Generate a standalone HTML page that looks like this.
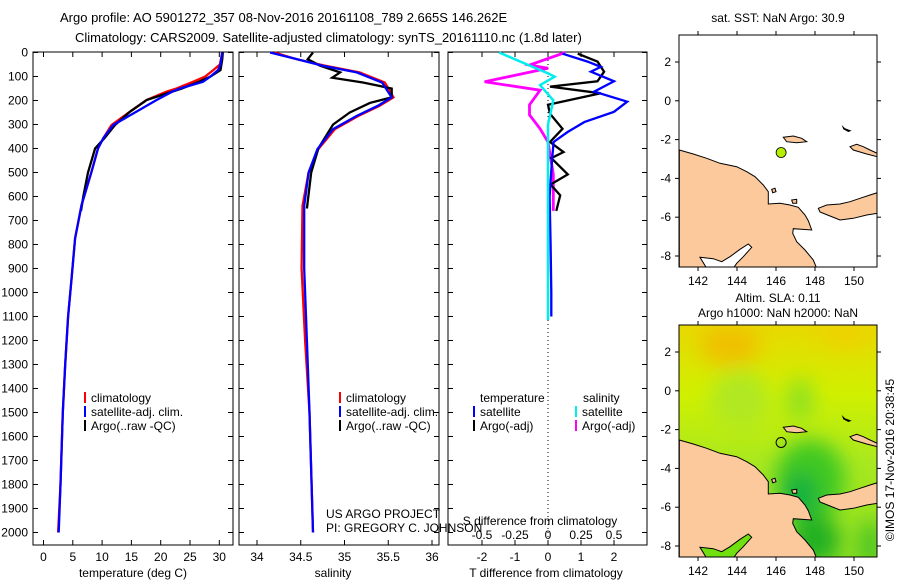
<!DOCTYPE html>
<html><head><meta charset="utf-8"><style>
html,body{margin:0;padding:0;background:#fff;width:900px;height:580px;overflow:hidden}
svg{display:block;font-family:"Liberation Sans",sans-serif;font-size:12px}
</style></head><body>
<svg id="c" width="900" height="580" viewBox="0 0 900 580">
<text x="60" y="22" font-size="13">Argo profile: AO 5901272_357 08-Nov-2016 20161108_789 2.665S 146.262E</text>
<text x="75" y="42" font-size="13">Climatology: CARS2009. Satellite-adjusted climatology: synTS_20161110.nc (1.8d later)</text>
<g id="p1"></g>
<g id="p2"></g>
<g id="p3"></g>
<g id="m1"></g>
<g id="m2"></g>
<text transform="translate(894,460) rotate(-90)" text-anchor="middle" font-size="12">©IMOS 17-Nov-2016 20:38:45</text>
</svg>
<script>
// ---- data ----
const climDepth=[0,50,73,100,122,150,163,198,246,302,357,400,496,635,774,940,1100,1300,1500,1800,2000];
const climTemp=[30.5,30.1,29.0,27.6,25.5,22.7,21.0,17.6,14.8,11.6,10.2,9.3,8.2,6.5,5.4,4.8,4.2,3.7,3.3,2.9,2.5];
const satTemp=[30.5,30.2,29.8,28.5,27.2,23.3,22.0,19.3,15.9,11.9,10.2,9.3,8.2,6.5,5.4,4.8,4.2,3.7,3.3,2.9,2.6];
const argoDepth=[0,30,73,100,122,150,198,246,302,357,400,500,600,660];
const argoTemp=[30.6,30.5,30.2,28.5,26.5,23.6,17.6,14.8,12.2,10.4,8.8,7.6,6.8,6.4];
const salDepth=[0,28,55,83,125,187,222,264,319,403,500,639,900,1200,1500,2000];
const climSal=[34.2,34.45,34.78,35.17,35.46,35.56,35.40,35.16,34.89,34.70,34.59,34.52,34.51,34.55,34.6,34.64];
const satSal=[34.15,34.46,34.75,35.14,35.43,35.54,35.38,35.14,34.87,34.69,34.59,34.54,34.54,34.57,34.6,34.64];
const argoSalDepth=[0,28,55,83,105,125,150,187,210,250,300,400,500,650];
const argoSal=[34.64,34.58,34.72,34.95,34.86,35.21,35.54,35.54,35.29,35.06,34.87,34.70,34.62,34.57];
const dTDepth=[5,38,60,80,120,163,205,247,290,331,373,450,600,800,1000,1100];
const satDT=[0.44,1.2,1.6,1.3,2.0,1.4,2.4,2.0,1.1,0.6,0.17,0.12,0.05,0.08,0.1,0.1];
const argoDTDepth=[5,38,80,120,142,170,218,255,318,373,415,440,508,550,595,660];
const argoDT=[0.9,1.5,1.7,1.5,0.06,1.6,0.0,0.06,0.44,0.06,0.47,0.1,0.6,0.08,0.37,0.25];
const dSDepth=[0,52,66,122,157,218,260,318,373,508,660];
const argoDS=[0.13,-0.14,0.0,-0.48,-0.06,-0.14,-0.14,-0.06,0.0,0.04,0.04];
const satDSDepth=[0,52,87,101,136,199,300,600,900,1115];
const satDS=[-0.37,-0.15,0,0.05,-0.06,0.04,0,0,0,0];
const depthTicks=[0,100,200,300,400,500,600,700,800,900,1000,1100,1200,1300,1400,1500,1600,1700,1800,1900,2000];
const tempTicks=[0,5,10,15,20,25,30];
const salTicks=[34,34.5,35,35.5,36];
const salTickLabels=["34","34.5","35","35.5","36"];
const dTTicks=[-2,-1,0,1,2];
const dSTicks=[-0.5,-0.25,0,0.25,0.5];
const dSTickLabels=["-0.5","-0.25","0","0.25","0.5"];
const mapLonTicks=[142,144,146,148,150];
const mapLatTicks=[2,0,-2,-4,-6,-8];
const argoLon=146.262, argoLat=-2.665;
// ---- helpers ----
const NS="http://www.w3.org/2000/svg";
function mk(parent,tag,attrs){const e=document.createElementNS(NS,tag);for(const k in attrs)e.setAttribute(k,attrs[k]);parent.appendChild(e);return e;}
const yD=d=>52.5+0.24*d;
const xT=t=>43.5+5.86*t;
const xS=s=>257+87.5*(s-34);
const xDT=t=>548+33*t;
const xDS=s=>548+132*s;
const TOP=52,BOT=545;
function frame(g,x0,x1,name){
  const r=mk(g,'rect',{x:x0,y:TOP,width:x1-x0,height:BOT-TOP,fill:'none',stroke:'#000','stroke-width':1});
  
  
  depthTicks.forEach(d=>{const y=yD(d);
    mk(g,'line',{x1:x0,x2:x0+5,y1:y,y2:y,stroke:'#000'});
    mk(g,'line',{x1:x1-5,x2:x1,y1:y,y2:y,stroke:'#000'});
  });
}
function line(g,xs,ds,fx,color,name,w){
  const pts=xs.map((v,i)=>fx(v).toFixed(1)+','+yD(ds[i]).toFixed(1)).join(' ');
  const p=mk(g,'polyline',{points:pts,fill:'none',stroke:color,'stroke-width':w||2.3});
  
  
}
function xticks(g,ticks,labels,fx,ylab){
  ticks.forEach((t,i)=>{const x=fx(t);
    mk(g,'line',{x1:x,x2:x,y1:BOT,y2:BOT-5,stroke:'#000'});
    mk(g,'line',{x1:x,x2:x,y1:TOP,y2:TOP+5,stroke:'#000'});
    const tx=mk(g,'text',{x:x,y:ylab,'text-anchor':'middle'});tx.textContent=labels[i];
  });
}
function txt(g,x,y,s,name,anchor){const t=mk(g,'text',{x:x,y:y,'text-anchor':anchor||'start'});t.textContent=s;
  
  
  return t;}
function legBar(g,x,y,color){mk(g,'rect',{x:x,y:y-10,width:2,height:11,fill:color});}
// ---- panel 1 ----
const p1=document.getElementById('p1');
frame(p1,33,233,'temperature-axes');
depthTicks.forEach(d=>{const t=mk(p1,'text',{x:28,y:yD(d)+4,'text-anchor':'end'});t.textContent=d;});
xticks(p1,tempTicks,tempTicks.map(String),xT,561);
txt(p1,133,577,'temperature (deg C)','temperature-axis-title','middle');
line(p1,climTemp,climDepth,xT,'#f00','temp-climatology-line');
line(p1,argoTemp,argoDepth,xT,'#000','temp-argo-line');
line(p1,satTemp,climDepth,xT,'#00f','temp-satellite-line');
legBar(p1,84,402,'#f00');txt(p1,91,402,'climatology','legend-climatology');
legBar(p1,84,416,'#00f');txt(p1,91,416,'satellite-adj. clim.','legend-satellite');
legBar(p1,84,430,'#000');txt(p1,91,430,'Argo(..raw -QC)','legend-argo');
// ---- panel 2 ----
const p2=document.getElementById('p2');
frame(p2,239,439,'salinity-axes');
xticks(p2,salTicks,salTickLabels,xS,561);
txt(p2,333,577,'salinity','salinity-axis-title','middle');
line(p2,climSal,salDepth,xS,'#f00','sal-climatology-line');
line(p2,argoSal,argoSalDepth,xS,'#000','sal-argo-line');
line(p2,satSal,salDepth,xS,'#00f','sal-satellite-line');
legBar(p2,339,402,'#f00');txt(p2,346,402,'climatology','legend-climatology-2');
legBar(p2,339,416,'#00f');txt(p2,346,416,'satellite-adj. clim.','legend-satellite-2');
legBar(p2,339,430,'#000');txt(p2,346,430,'Argo(..raw -QC)','legend-argo-2');
txt(p2,326,518,'US ARGO PROJECT','project-label');
txt(p2,326,532,'PI: GREGORY C. JOHNSON','pi-label');
// ---- panel 3 ----
const p3=document.getElementById('p3');
frame(p3,448,647,'difference-axes');
mk(p3,'line',{x1:548,x2:548,y1:TOP,y2:BOT,stroke:'#000','stroke-dasharray':'1,3'});
xticks(p3,dTTicks,dTTicks.map(String),xDT,561);
dSTicks.forEach((s,i)=>{const t=mk(p3,'text',{x:xDS(s),y:539,'text-anchor':'middle'});t.textContent=dSTickLabels[i];});
txt(p3,540,525,'S difference from climatology','s-diff-axis-title','middle');
txt(p3,546,577,'T difference from climatology','t-diff-axis-title','middle');
line(p3,argoDS,dSDepth,xDS,'#f0f','s-argo-diff-line',2.8);
line(p3,argoDT,argoDTDepth,xDT,'#000','t-argo-diff-line');
line(p3,satDT,dTDepth,xDT,'#00f','t-satellite-diff-line');
line(p3,satDS,satDSDepth,xDS,'#0ee','s-satellite-diff-line',2.5);
txt(p3,480,402,'temperature','legend-temperature-heading');
txt(p3,583,402,'salinity','legend-salinity-heading');
legBar(p3,473,416,'#00f');txt(p3,480,416,'satellite','legend-t-satellite');
legBar(p3,473,430,'#000');txt(p3,480,430,'Argo(-adj)','legend-t-argo');
legBar(p3,575,416,'#0ee');txt(p3,582,416,'satellite','legend-s-satellite');
legBar(p3,575,430,'#f0f');txt(p3,582,430,'Argo(-adj)','legend-s-argo');
// ---- maps ----
function drawMap(g,oy,title,bgFn,name){
  const X=lon=>698+19.5*(lon-142), Y=lat=>(oy+27)+19.4*(2-lat);
  const x0=679,x1=877,y0=oy,y1=oy+232;
  const cid='clip'+oy;
  const defs=mk(g,'defs',{});const cp=mk(defs,'clipPath',{id:cid});mk(cp,'rect',{x:x0,y:y0,width:x1-x0,height:y1-y0});
  const inner=mk(g,'g',{'clip-path':'url(#'+cid+')'});
  bgFn(inner,x0,y0,x1,y1,defs);
  const ox=640, oyz=oy-35;
  const P=arr=>arr.map(p=>(p[0]/3+ox).toFixed(1)+','+(p[1]/3+oyz).toFixed(1)).join(' ');
  const land='#fbc99b';
  const ng=mk(inner,'polygon',{points:P([[118,450],[160,462],[200,475],[240,490],[290,500],[320,515],[345,530],[370,555],[385,575],[385,612],[420,610],[450,615],[475,622],[495,645],[505,662],[515,690],[460,686],[458,700],[470,725],[495,750],[520,780],[530,805],[118,805]]),fill:land,stroke:'#000','stroke-width':1});
  
  
  mk(inner,'polygon',{points:P([[180,772],[220,776],[245,785],[270,770],[300,748],[325,732],[335,742],[310,770],[290,790],[280,805],[200,805]]),fill:bgFn.gulf||'#fff',stroke:'#000','stroke-width':1});
  mk(inner,'polygon',{points:P([[535,625],[560,615],[600,612],[630,605],[660,595],[690,585],[712,578],[712,640],[680,645],[640,655],[600,660],[570,648],[540,636]]),fill:land,stroke:'#000','stroke-width':1});
  mk(inner,'polygon',{points:P([[430,412],[460,408],[485,415],[500,425],[470,428],[440,425]]),fill:land,stroke:'#000','stroke-width':1});
  mk(inner,'polygon',{points:P([[630,440],[650,433],[670,440],[690,450],[712,460],[712,470],[680,462],[640,450]]),fill:land,stroke:'#000','stroke-width':1});
  mk(inner,'polygon',{points:P([[605,375],[615,385],[635,392],[625,396],[610,388]]),fill:'#000'});
  mk(inner,'polygon',{points:P([[395,568],[405,565],[408,575],[398,578]]),fill:land,stroke:'#000'});
  mk(inner,'polygon',{points:P([[455,600],[470,598],[470,610],[458,610]]),fill:land,stroke:'#000'});
  const r=mk(g,'rect',{x:x0,y:y0,width:x1-x0,height:y1-y0,fill:'none',stroke:'#000'});
  
  
  mapLonTicks.forEach(l=>{const x=X(l);mk(g,'line',{x1:x,x2:x,y1:y0,y2:y0-4,stroke:'#000'});mk(g,'line',{x1:x,x2:x,y1:y1,y2:y1+4,stroke:'#000'});
    const t=mk(g,'text',{x:x,y:y1+18,'text-anchor':'middle'});t.textContent=l;});
  mapLatTicks.forEach(l=>{const y=Y(l);mk(g,'line',{x1:x0,x2:x0-4,y1:y,y2:y,stroke:'#000'});mk(g,'line',{x1:x1,x2:x1+4,y1:y,y2:y,stroke:'#000'});
    const t=mk(g,'text',{x:x0-8,y:y+4,'text-anchor':'end'});t.textContent=l;});
  return {X,Y};
}
const m1=document.getElementById('m1');
txt(m1,778,22,'sat. SST: NaN Argo: 30.9','sst-map-title','middle');
const a=drawMap(m1,35,'',(g,x0,y0,x1,y1)=>{mk(g,'rect',{x:x0,y:y0,width:x1-x0,height:y1-y0,fill:'#fff'});},'sst-map-frame');
const dot=mk(m1,'circle',{cx:a.X(argoLon),cy:a.Y(argoLat),r:5,fill:'#b4f000',stroke:'#000','stroke-width':0.8});


const m2=document.getElementById('m2');
txt(m2,778,302,'Altim. SLA: 0.11','sla-map-title','middle');
txt(m2,778,317,'Argo h1000: NaN h2000: NaN','sla-map-subtitle','middle');
function slaBg(g,x0,y0,x1,y1,defs){
  const f=mk(defs,'filter',{id:'bl',x:'-50%',y:'-50%',width:'200%',height:'200%'});mk(f,'feGaussianBlur',{stdDeviation:10});
  const lg=mk(defs,'linearGradient',{id:'slag',x1:0,y1:0,x2:0,y2:1});
  mk(lg,'stop',{offset:'0','stop-color':'#e8d800'});mk(lg,'stop',{offset:'0.3','stop-color':'#d0f000'});mk(lg,'stop',{offset:'0.6','stop-color':'#a8e820'});mk(lg,'stop',{offset:'1','stop-color':'#90e020'});
  mk(g,'rect',{x:x0,y:y0,width:x1-x0,height:y1-y0,fill:'url(#slag)'});
  const bg=mk(g,'g',{filter:'url(#bl)'});
  mk(bg,'ellipse',{cx:730,cy:345,rx:30,ry:20,fill:'#f0c000'});
  mk(bg,'ellipse',{cx:845,cy:335,rx:25,ry:12,fill:'#f0d000'});
  mk(bg,'ellipse',{cx:740,cy:400,rx:30,ry:30,fill:'#b0e820'});
  mk(bg,'ellipse',{cx:800,cy:400,rx:14,ry:22,fill:'#90e020'});
  mk(bg,'ellipse',{cx:810,cy:480,rx:35,ry:40,fill:'#40c820'});
  mk(bg,'ellipse',{cx:800,cy:495,rx:18,ry:22,fill:'#10b040'});
  mk(bg,'ellipse',{cx:815,cy:540,rx:25,ry:25,fill:'#20b020'});
  mk(bg,'ellipse',{cx:740,cy:550,rx:25,ry:12,fill:'#50d020'});
  mk(bg,'ellipse',{cx:870,cy:545,rx:10,ry:25,fill:'#40c020'});
}
slaBg.gulf='#70e010';
const b=drawMap(m2,325,'',slaBg,'sla-map-frame');
const ring=mk(m2,'circle',{cx:b.X(argoLon),cy:b.Y(argoLat),r:5,fill:'none',stroke:'#000','stroke-width':1});


</script>
</body></html>
